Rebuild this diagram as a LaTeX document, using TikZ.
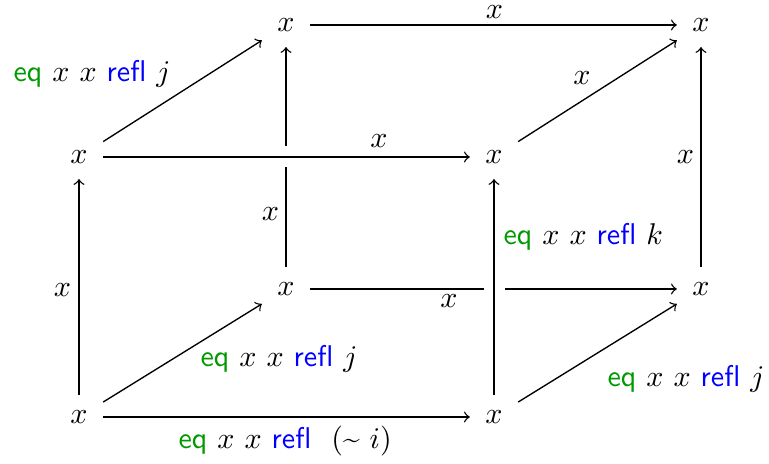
\documentclass[tikz,border=0pt]{standalone}
\usepackage{fontspec}
\usepackage{xcolor}
\definecolor{eqgreen}{RGB}{0,153,0}
\definecolor{reflblue}{RGB}{0,0,255}
\newcommand{\eqlbl}[1]{\textsf{\color{eqgreen}eq} $x$ $x$ \textsf{\color{reflblue}refl} #1}
\begin{document}
\begin{tikzpicture}[x=0.3333pt,y=-0.3333pt,
  obj/.style={inner sep=5pt},
  lbl/.style={inner sep=0pt},
  arr/.style={->, line width=0.45pt},
  over/.style={preaction={draw=white,-,line width=7pt}}]
\useasboundingbox (0,0) rectangle (769,464);
% vertices
\node[obj] (BTL) at (286,25) {$x$};
\node[obj] (BTR) at (701,25) {$x$};
\node[obj] (FTL) at (79,157) {$x$};
\node[obj] (FTR) at (494,157) {$x$};
\node[obj] (BBL) at (286,289) {$x$};
\node[obj] (BBR) at (701,289) {$x$};
\node[obj] (FBL) at (79,417) {$x$};
\node[obj] (FBR) at (494,417) {$x$};
% edges passing behind
\draw[arr] (BBL) -- (BTL);
\draw[arr] (BBL) -- (BBR);
% edges crossing over
\draw[arr,over] (FTL) -- (FTR);
\draw[arr,over] (FBR) -- (FTR);
% other edges
\draw[arr] (FTL) -- (BTL);
\draw[arr] (BTL) -- (BTR);
\draw[arr] (FTR) -- (BTR);
\draw[arr] (BBR) -- (BTR);
\draw[arr] (FBL) -- (FTL);
\draw[arr] (FBL) -- (BBL);
\draw[arr] (FBL) -- (FBR);
\draw[arr] (FBR) -- (BBR);
% labels
\node[lbl,anchor=base west] (l1) at (13,82) {\eqlbl{$j$}};
\node[lbl,anchor=base west] (l2) at (200,367) {\eqlbl{$j$}};
\node[lbl,anchor=base west] (l3) at (178,449) {\eqlbl{\ $(${\sffamily\textasciitilde} $i)$}};
\node[lbl,anchor=base west] (l4) at (503,245) {\eqlbl{$k$}};
\node[lbl,anchor=base west] (l5) at (607,387) {\eqlbl{$j$}};
\node[lbl] (x1) at (494.5,12.5) {$x$};
\node[lbl] (x2) at (379,141.5) {$x$};
\node[lbl] (x3) at (582,78) {$x$};
\node[lbl] (x4) at (685.5,157.5) {$x$};
\node[lbl] (x5) at (270.5,214.5) {$x$};
\node[lbl] (x6) at (62.5,290) {$x$};
\node[lbl] (x7) at (449,301.5) {$x$};
\end{tikzpicture}
\end{document}
